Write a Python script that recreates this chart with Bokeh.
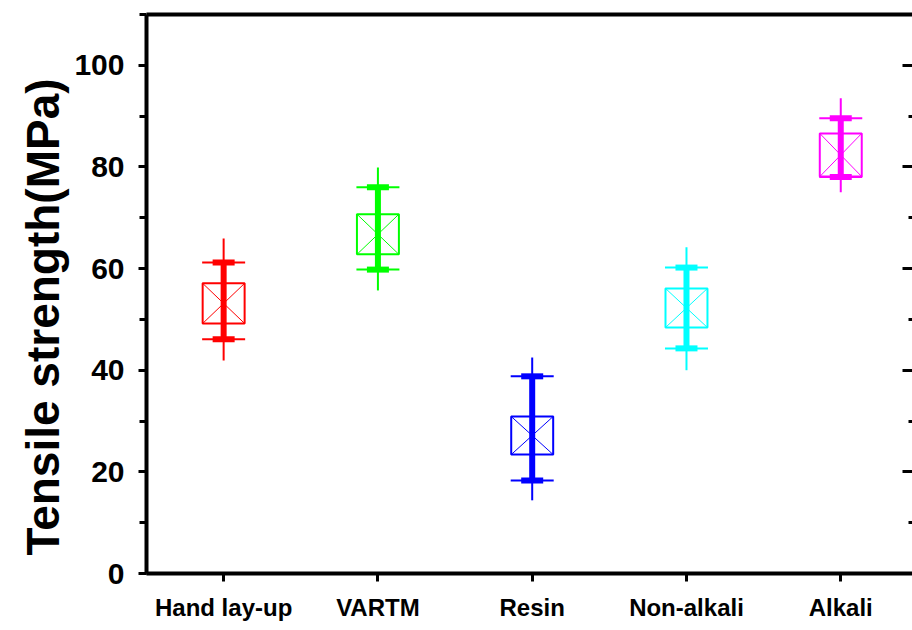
import numpy as np
from bokeh.plotting import figure
from bokeh.models import (Range1d, LinearAxis, SingleIntervalTicker, FixedTicker,
                          ColumnDataSource, CustomJSTickFormatter, Title)
from bokeh.embed import file_html
from bokeh.resources import INLINE

# ---- data ----
categories = ["Hand lay-up", "VARTM", "Resin", "Non-alkali", "Alkali"]
colors = ["#FF0000", "#00FF00", "#0000FF", "#00FFFF", "#FF00FF"]
whisker_hi = [65.9, 79.9, 42.5, 64.2, 93.5]
cap_hi = [61.2, 76.0, 38.8, 60.2, 89.6]
q3 = [57.1, 70.7, 30.9, 56.1, 86.6]
q1 = [49.2, 62.8, 23.4, 48.4, 78.1]
cap_lo = [46.1, 59.8, 18.3, 44.3, 78.0]
whisker_lo = [41.9, 55.7, 14.4, 40.0, 75.0]
y_label = "Tensile strength(MPa)"
y_ticks_major = 20

# ---- styling ----
BOX_HALF = 0.136
FONT = "Liberation Sans"

x = np.arange(1, len(categories) + 1, dtype=float)
src = ColumnDataSource(dict(
    x=x, color=colors,
    whi=whisker_hi, wlo=whisker_lo, chi=cap_hi, clo=cap_lo, q1=q1, q3=q3,
    left=x - BOX_HALF, right=x + BOX_HALF,
))

p = figure(width=912, height=628, output_backend="svg", toolbar_location=None,
           x_range=Range1d(0.5, 5.465), y_range=Range1d(0, 110),
           min_border_left=146, min_border_top=14, min_border_right=0, min_border_bottom=55)
p.grid.visible = False
p.outline_line_color = None
p.background_fill_color = "white"

# left axis
ya = p.yaxis[0]
ya.ticker = SingleIntervalTicker(interval=y_ticks_major, num_minor_ticks=2)
ya.axis_line_width = 4
ya.major_tick_line_width = 3
ya.minor_tick_line_width = 3
ya.major_tick_out = 8
ya.major_tick_in = 0
ya.minor_tick_out = 7
ya.minor_tick_in = 0
ya.major_label_text_font = FONT
ya.major_label_text_font_style = "bold"
ya.major_label_text_font_size = "30px"
ya.major_label_text_color = "black"
ya.major_label_standoff = 14

# y-axis title as a left Title (allows shifting along the axis)
p.add_layout(Title(text=y_label, align="left", offset=18, standoff=5,
                   text_font=FONT, text_font_style="bold", text_font_size="46px",
                   text_color="black"), "left")

# bottom axis
xa = p.xaxis[0]
xa.ticker = FixedTicker(ticks=list(x))
xa.major_label_overrides = {int(v): c for v, c in zip(x, categories)}
xa.axis_line_width = 4
xa.major_tick_line_width = 3
xa.major_tick_out = 8
xa.major_tick_in = 0
xa.minor_tick_out = 0
xa.minor_tick_in = 0
xa.major_label_text_font = FONT
xa.major_label_text_font_style = "bold"
xa.major_label_text_font_size = "24px"
xa.major_label_text_color = "black"
xa.major_label_standoff = 12

# top axis: line only
top = LinearAxis(ticker=FixedTicker(ticks=[]), axis_line_width=4,
                 major_tick_out=0, major_tick_in=0, minor_tick_out=0, minor_tick_in=0,
                 major_label_standoff=0)
p.add_layout(top, "above")

# right axis: inward ticks only, no labels
right = LinearAxis(ticker=SingleIntervalTicker(interval=y_ticks_major, num_minor_ticks=2),
                   formatter=CustomJSTickFormatter(code="return ''"),
                   axis_line_color=None,
                   major_tick_in=10, major_tick_out=0, minor_tick_in=4, minor_tick_out=0,
                   major_tick_line_width=3, minor_tick_line_width=3,
                   major_label_standoff=0)
p.add_layout(right, "right")

# boxes
p.quad(left="left", right="right", bottom="q1", top="q3", source=src,
       fill_color=None, line_color="color", line_width=2)
p.segment(x0="left", y0="q1", x1="right", y1="q3", source=src, line_color="color", line_width=1)
p.segment(x0="left", y0="q3", x1="right", y1="q1", source=src, line_color="color", line_width=1)

# thin whisker line
p.segment(x0="x", y0="wlo", x1="x", y1="whi", source=src, line_color="color", line_width=2)
# thick bar
p.segment(x0="x", y0="clo", x1="x", y1="chi", source=src, line_color="color", line_width=6)
# caps
for col in ("chi", "clo"):
    p.scatter(x="x", y=col, source=src, marker="dash", size=43, line_color="color", line_width=2)
    p.scatter(x="x", y=col, source=src, marker="dash", size=22, line_color="color", line_width=6)

open("out.html", "w").write(file_html(p, INLINE))
